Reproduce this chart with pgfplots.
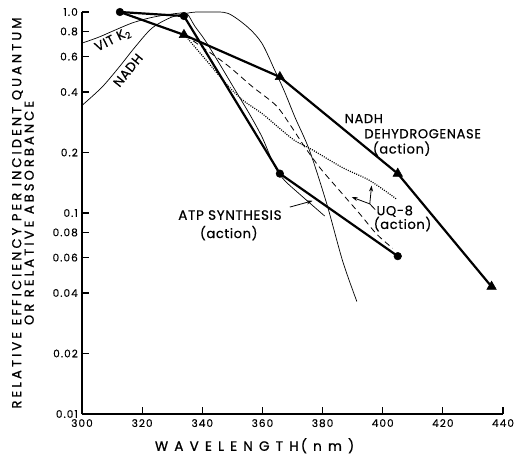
\documentclass[border=0pt]{standalone}
\usepackage{fontspec}
\setmainfont{Poppins}
\newfontfamily\annfont[LetterSpace=5,FakeBold=0.6]{Poppins}
\newfontfamily\tickfont[LetterSpace=10,FakeBold=0.4]{Poppins}
\newfontfamily\ylblfont[LetterSpace=24,FakeBold=1]{Poppins}
\newfontfamily\xlblfont[LetterSpace=46,FakeBold=1]{Poppins}
\usepackage{pgfplots}
\pgfplotsset{compat=1.18}
\usetikzlibrary{arrows.meta}

\begin{document}
\begin{tikzpicture}
\begin{axis}[
  scale only axis, width=421pt, height=402pt,
  xmin=300, xmax=440, ymin=0.01, ymax=1,
  ymode=log,
  axis x line=bottom, axis y line=left,
  axis line style={-, line width=1.6pt},
  xtick={300,320,...,440},
  ytick={0.01,0.02,0.04,0.06,0.08,0.1,0.2,0.4,0.6,0.8,1},
  yticklabels={0.01,0.02,0.04,0.06,0.08,0.1,0.2,0.4,0.6,0.8,1.0},
  yminorticks=false,
  tick align=inside, major tick length=7pt,
  every tick/.style={black, line width=1.2pt},
  ticklabel style={font=\tickfont\fontsize{10.5}{12}\selectfont},
  xticklabel style={inner sep=1pt, yshift=-4pt},
  yticklabel style={inner sep=1pt, xshift=-3pt},
  /pgf/number format/assume math mode=true,
  xlabel={WAVELENGTH\,(nm)},
  x label style={at={([yshift=-24pt]axis description cs:0.41,0)}, anchor=north,
    inner sep=0pt, font=\xlblfont\fontsize{13.5}{14}\selectfont},
  ylabel={RELATIVE EFFICIENCY PER INCIDENT QUANTUM\\OR RELATIVE ABSORBANCE},
  y label style={at={([xshift=-48pt]axis description cs:0,0.5)}, anchor=south,
    inner sep=0pt, align=center,
    font=\ylblfont\fontsize{13}{12.5}\selectfont},
  clip=false,
]
% NADH absorbance
\addplot[black, line width=0.7pt, smooth, tension=0.5] coordinates {
  (300,0.343)(306.6,0.422)(312.3,0.531)(317.6,0.668)(323.3,0.832)(329.9,0.944)
  (336.5,0.995)(341.9,1.0)(348.5,0.985)(355.1,0.841)(359.8,0.70)(364.1,0.513)
  (367.4,0.40)(370.8,0.30)(375.7,0.204)(381.4,0.111)(386.7,0.0575)(391.4,0.0363)};
% VIT K2 absorbance
\addplot[black, line width=0.7pt, smooth, tension=0.5] coordinates {
  (300,0.70)(305.6,0.75)(311,0.813)(316.6,0.881)(322.3,0.933)(327.6,0.966)
  (333.2,0.989)(335.2,0.97)(337.5,0.851)(340.9,0.724)(345.8,0.55)(350.8,0.412)
  (355.8,0.309)(359.8,0.24)(362.5,0.193)(364.5,0.166)(367.4,0.145)(372.4,0.124)(380.7,0.0966)};
% UQ-8 (action), dashed
\addplot[black, line width=0.8pt, dash pattern=on 6pt off 4pt, smooth, tension=0.5] coordinates {
  (334.2,0.767)(347.5,0.556)(356.5,0.427)(364.5,0.343)(369.4,0.272)(373.8,0.216)
  (379.1,0.168)(385.7,0.129)(392.4,0.0989)(398.0,0.0785)(403.3,0.0668)};
% UQ-8 (action), dotted
\addplot[black, line width=1.2pt, dash pattern=on 1pt off 1.3pt, smooth, tension=0.5] coordinates {
  (334.2,0.767)(341.9,0.562)(347.5,0.447)(353.2,0.367)(359.8,0.313)(365.8,0.263)
  (370.8,0.229)(376.4,0.207)(386.7,0.168)(395.7,0.145)(404.7,0.117)};
% NADH dehydrogenase (action)
\addplot[black, line width=2.2pt, mark=triangle*, mark size=5.5pt, mark indices={2,3,4,5},
  mark options={solid, line width=0.5pt}] coordinates {
  (312.6,1.0)(333.9,0.77)(365.8,0.475)(405,0.157)(436.2,0.043)};
% ATP synthesis (action)
\addplot[black, line width=2.2pt, mark=*, mark size=3.8pt,
  mark options={solid, line width=0.5pt}] coordinates {
  (312.6,1.0)(333.9,0.955)(365.8,0.157)(405,0.061)};

\node[font=\annfont\fontsize{13}{14}\selectfont, rotate=27] at (axis cs:310.3,0.724) {VIT K\textsubscript{2}};
\node[font=\annfont\fontsize{13}{14}\selectfont, rotate=51] at (axis cs:315.3,0.513) {NADH};
\node[font=\annfont\fontsize{13}{14}\selectfont] at (axis cs:393.7,0.295) {NADH};
\node[font=\annfont\fontsize{13}{14}\selectfont] at (axis cs:413.3,0.248) {DEHYDROGENASE};
\node[font=\annfont\fontsize{13}{14}\selectfont] at (axis cs:406.3,0.209) {(action)};
\node[font=\annfont\fontsize{13.5}{14}\selectfont] at (axis cs:349.2,0.0977) {ATP SYNTHESIS};
\node[font=\annfont\fontsize{13}{14}\selectfont] at (axis cs:348.8,0.0794) {(action)};
\node[font=\annfont\fontsize{13}{14}\selectfont] at (axis cs:404,0.102) {UQ-8};
\node[font=\annfont\fontsize{13}{14}\selectfont] at (axis cs:406.6,0.0881) {(action)};
\draw[line width=0.8pt, -{Stealth[length=6pt,width=4pt]}] (axis cs:369.1,0.107) -- (axis cs:376.7,0.115);
\draw[line width=0.8pt, -{Stealth[length=6pt,width=4pt]}] (axis cs:397.5,0.104) -- (axis cs:395.7,0.111) -- (axis cs:396.3,0.137);
\draw[line width=0.8pt, -{Stealth[length=6pt,width=4pt]}] (axis cs:395.7,0.111) -- (axis cs:389.7,0.120);
\coordinate (ll) at (rel axis cs:0,0);
\coordinate (ur) at (rel axis cs:1,1);
\end{axis}
% page as large as the reference, with its margins round the axis
\pgfresetboundingbox
\path[use as bounding box] ([shift={(-82pt,-41pt)}]ll) rectangle ([shift={(14pt,12pt)}]ur);
\end{tikzpicture}
\end{document}
